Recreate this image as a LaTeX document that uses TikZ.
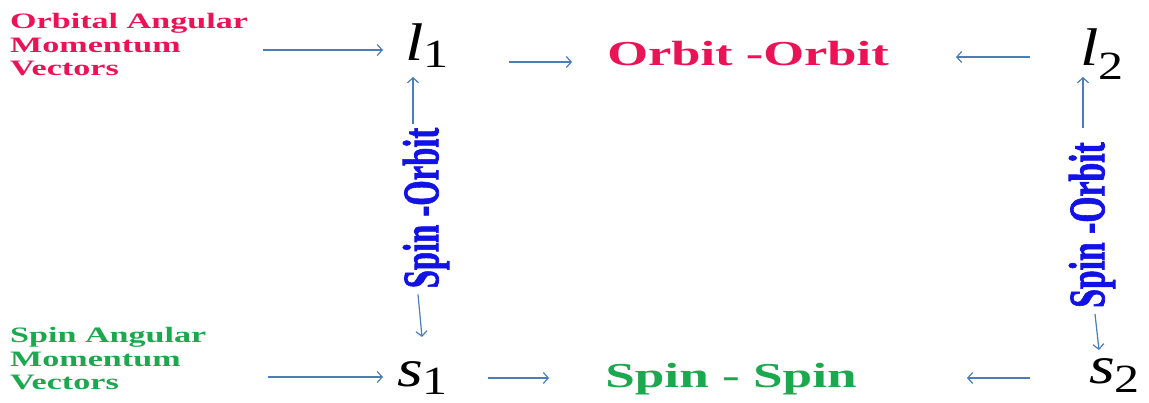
\documentclass[tikz,border=0pt]{standalone}
\usepackage{fontspec}
\setmainfont{Liberation Serif}
\newfontfamily\sofont{Liberation Serif}[BoldFeatures={FakeBold=1.6}]
\usepackage{graphicx}
\usetikzlibrary{arrows.meta}

\definecolor{orbred}{RGB}{236,18,86}
\definecolor{spingreen}{RGB}{28,168,78}
\definecolor{soblue}{RGB}{18,18,230}
\definecolor{arrowblue}{RGB}{74,126,187}

% wide bold lettering and vector symbols with a subscript
\newcommand{\widetext}[2][1.55]{\scalebox{#1}[1]{#2}}
\newcommand{\vecsym}[3]{\scalebox{1.25}[1]{\textit{#1}\raisebox{#3}{\fontsize{40}{40}\selectfont #2}}}

\begin{document}
\begin{tikzpicture}[x=1pt,y=-1pt,
  heading/.style={font=\fontsize{22}{23.6}\selectfont\bfseries, align=left, inner sep=0pt, anchor=north west},
  coupling/.style={font=\fontsize{35}{36}\selectfont\bfseries, inner sep=0pt, anchor=base},
  vec/.style={font=\fontsize{53}{56}\selectfont, inner sep=0pt, anchor=base west},
  solabel/.style={font=\fontsize{51}{51}\sofont\bfseries, text=soblue, rotate=90, inner sep=0pt},
  arr/.style={draw=arrowblue, line width=1.2pt, -{Straight Barb[length=5pt,width=11pt]}}
]
\useasboundingbox (0,0) rectangle (1149,402);

% side headings
\node[heading, text=orbred] (orbhead) at (10,13) {\widetext{Orbital Angular}\\\widetext{Momentum}\\\widetext{Vectors}};
\node[heading, text=spingreen] (spinhead) at (10,327) {\widetext{Spin Angular}\\\widetext{Momentum}\\\widetext{Vectors}};

% the four angular momentum vectors
\node[vec] (l1) at (405,60) {\vecsym{l}{1}{-7pt}};
\node[vec] (l2) at (1080,65) {\vecsym{l}{2}{-14pt}};
\node[vec] (s1) at (397,386) {\vecsym{s}{1}{-8pt}};
\node[vec] (s2) at (1089,383) {\vecsym{s}{2}{-9pt}};

% couplings
\node[coupling, text=orbred] (oo) at (748,65) {\widetext[1.5]{Orbit -Orbit}};
\node[coupling, text=spingreen] (ss) at (731,387) {\widetext[1.52]{Spin - Spin}};
\node[solabel] (so1) at (426,208) {\scalebox{0.64}[1]{Spin -Orbit}};
\node[solabel] (so2) at (1092,225) {\scalebox{0.66}[1]{Spin -Orbit}};

% horizontal connectors
\draw[arr] ([xshift=15pt]orbhead.east |- 0,50) -- ([xshift=-22pt]l1.west |- 0,50);
\draw[arr] ([xshift=61pt]spinhead.east |- 0,377) -- ([xshift=-14pt]s1.west |- 0,377);
\draw[arr] ([xshift=60pt]l1.east |- 0,62) -- ([xshift=-35pt]oo.west |- 0,62);
\draw[arr] ([xshift=40pt]s1.east |- 0,378) -- ([xshift=-56pt]ss.west |- 0,378);
\draw[arr] ([xshift=-50pt]l2.west |- 0,57) -- ([xshift=67pt]oo.east |- 0,57);
\draw[arr] ([xshift=-59pt]s2.west |- 0,378) -- ([xshift=110pt]ss.east |- 0,378);

% vertical spin-orbit connectors
\draw[arr] (so1.east -| 413,0) ++(0,-4) -- (413,77);
\draw[arr] (so1.west -| 418,0) ++(0,6) -- (422,337);
\draw[arr] (so2.east -| 1083,0) ++(0,-14) -- (1083,77);
\draw[arr] (so2.west -| 1095,0) ++(0,6) -- (1099,350);
\end{tikzpicture}
\end{document}
